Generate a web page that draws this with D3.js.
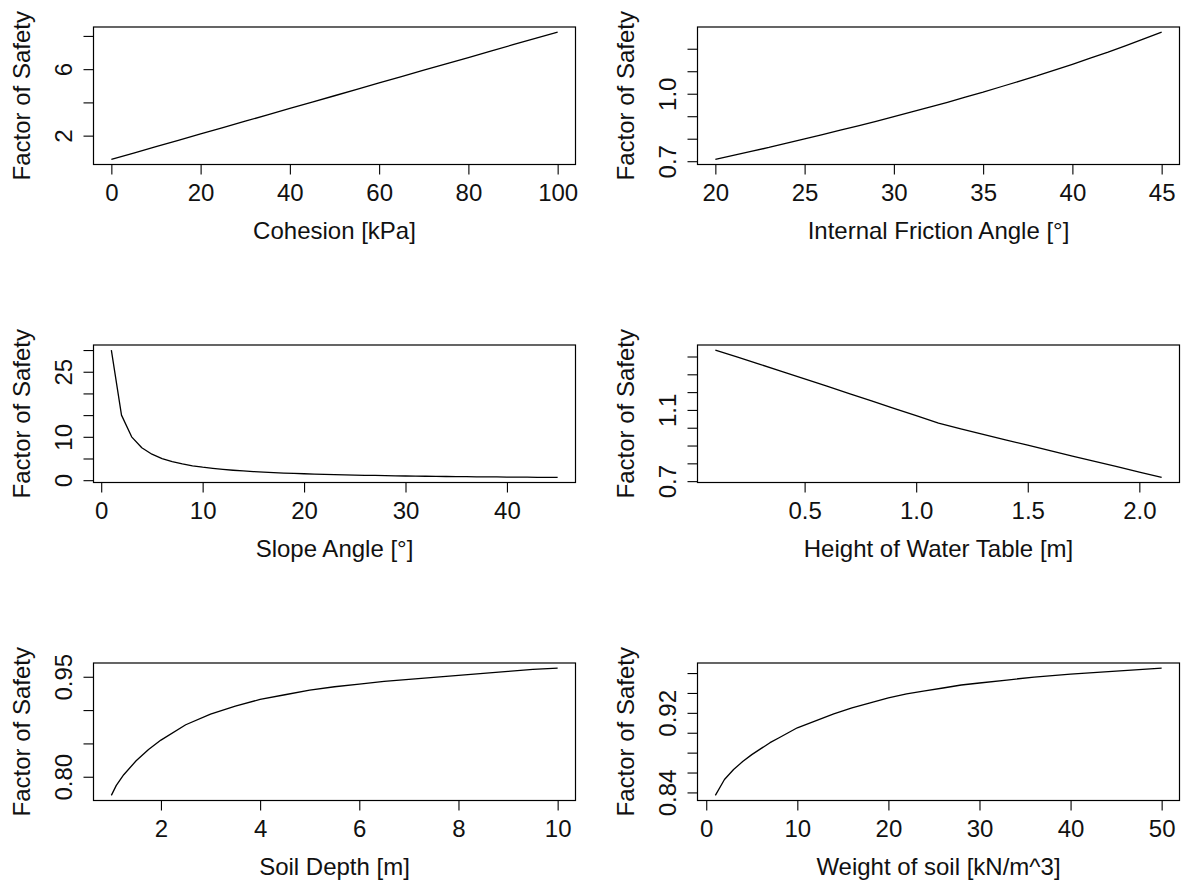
<!DOCTYPE html>
<html>
<head>
<meta charset="utf-8">
<script src="https://cdn.jsdelivr.net/npm/d3@7"></script>
<style>
  html, body { margin: 0; padding: 0; background: #ffffff; }
  svg { display: block; }
  text { font-family: "Liberation Sans", Arial, Helvetica, sans-serif; fill: #111; }
</style>
</head>
<body>
<svg id="chart" width="1181" height="881"></svg>
<script>
// ---- Sensitivity sweeps: factor of safety against each input parameter ----

// Cohesion [kPa]
const cohesion = [0, 5, 10, 15, 20, 25, 30, 35, 40, 45, 50, 55, 60, 65, 70, 75, 80, 85, 90, 95, 100];
const fosCohesion = [0.57, 0.95, 1.34, 1.72, 2.10, 2.48, 2.87, 3.25, 3.64, 4.02, 4.40,
                     4.79, 5.17, 5.55, 5.94, 6.32, 6.70, 7.09, 7.47, 7.85, 8.23];

// Internal friction angle [deg]
const frictionAngle = [20, 21, 22, 23, 24, 25, 26, 27, 28, 29, 30, 31, 32,
                       33, 34, 35, 36, 37, 38, 39, 40, 41, 42, 43, 44, 45];
const fosFriction = [0.708, 0.726, 0.744, 0.761, 0.780, 0.799, 0.818, 0.838, 0.857,
                     0.877, 0.898, 0.919, 0.940, 0.962, 0.985, 1.007, 1.031, 1.055,
                     1.079, 1.105, 1.131, 1.158, 1.185, 1.214, 1.244, 1.274];

// Slope angle [deg]
const slopeAngle = [1, 2, 3, 4, 5, 6, 7, 8, 9, 10, 11, 12, 13, 14, 15, 16, 17, 18, 19, 20,
                    21, 22, 23, 24, 25, 26, 27, 28, 29, 30, 31, 32, 33, 34, 35, 36, 37, 38,
                    39, 40, 41, 42, 43, 44, 45];
const fosSlope = [29.99, 15.00, 9.99, 7.49, 5.99, 4.99, 4.28, 3.74, 3.32, 2.99,
                  2.72, 2.49, 2.29, 2.13, 1.99, 1.86, 1.75, 1.65, 1.56, 1.48,
                  1.41, 1.34, 1.28, 1.23, 1.18, 1.13, 1.09, 1.05, 1.01, 0.97,
                  0.94, 0.91, 0.88, 0.85, 0.83, 0.81, 0.78, 0.76, 0.74, 0.72,
                  0.70, 0.69, 0.67, 0.65, 0.64];

// Height of water table [m]
const waterTable = [0.1, 0.2, 0.3, 0.4, 0.5, 0.6, 0.7, 0.8, 0.9, 1.0, 1.1,
                    1.2, 1.3, 1.4, 1.5, 1.6, 1.7, 1.8, 1.9, 2.0, 2.1];
const fosWater = [1.436, 1.396, 1.356, 1.315, 1.274, 1.233, 1.192, 1.151, 1.109, 1.068, 1.026,
                  0.994, 0.963, 0.932, 0.902, 0.871, 0.841, 0.811, 0.781, 0.751, 0.721];

// Soil depth [m]
const soilDepth = [1, 1.1, 1.25, 1.5, 1.75, 2, 2.5, 3, 3.5, 4, 4.5, 5, 5.5, 6, 6.5, 7, 7.5, 8, 8.5, 9, 9.5, 10];
const fosDepth = [0.772, 0.787, 0.803, 0.824, 0.841, 0.855, 0.878, 0.894, 0.906, 0.916, 0.923,
                  0.930, 0.935, 0.939, 0.943, 0.946, 0.949, 0.952, 0.955, 0.958, 0.961, 0.963];

// Unit weight of soil [kN/m^3]
const soilWeight = [1, 2, 3, 4, 5, 6, 7, 8, 9, 10, 12, 14, 16, 18, 20, 22, 24, 26, 28, 30, 33, 36, 40, 45, 50];
const fosWeight = [0.837, 0.853, 0.863, 0.871, 0.878, 0.884, 0.890, 0.895, 0.900, 0.905,
                   0.912, 0.919, 0.925, 0.930, 0.935, 0.939, 0.942, 0.945, 0.948, 0.950,
                   0.953, 0.956, 0.959, 0.962, 0.965];

// Axis ticks and the labels printed at them ("" = tick without a label)
const xTicksCohesion = [0, 20, 40, 60, 80, 100];
const yTicksCohesion = [2, 4, 6, 8];
const yLabelsCohesion = ["2", "", "6", ""];

const xTicksFriction = [20, 25, 30, 35, 40, 45];
const yTicksFriction = [0.7, 0.8, 0.9, 1.0, 1.1, 1.2];
const yLabelsFriction = ["0.7", "", "", "1.0", "", ""];

const xTicksSlope = [0, 10, 20, 30, 40];
const yTicksSlope = [0, 5, 10, 15, 20, 25, 30];
const yLabelsSlope = ["0", "", "10", "", "", "25", ""];

const xTicksWater = [0.5, 1.0, 1.5, 2.0];
const xLabelsWater = ["0.5", "1.0", "1.5", "2.0"];
const yTicksWater = [0.7, 0.8, 0.9, 1.0, 1.1, 1.2, 1.3, 1.4];
const yLabelsWater = ["0.7", "", "", "", "1.1", "", "", ""];

const xTicksDepth = [2, 4, 6, 8, 10];
const yTicksDepth = [0.80, 0.85, 0.90, 0.95];
const yLabelsDepth = ["0.80", "", "", "0.95"];

const xTicksWeight = [0, 10, 20, 30, 40, 50];
const yTicksWeight = [0.84, 0.86, 0.88, 0.90, 0.92, 0.94, 0.96];
const yLabelsWeight = ["0.84", "", "", "", "0.92", "", ""];

const yTitle = "Factor of Safety";

// ---- Panel definitions ----
const panels = [
  { x: cohesion, y: fosCohesion, xTicks: xTicksCohesion, yTicks: yTicksCohesion,
    yLabels: yLabelsCohesion, xTitle: "Cohesion [kPa]" },
  { x: frictionAngle, y: fosFriction, xTicks: xTicksFriction, yTicks: yTicksFriction,
    yLabels: yLabelsFriction, xTitle: "Internal Friction Angle [°]" },
  { x: slopeAngle, y: fosSlope, xTicks: xTicksSlope, yTicks: yTicksSlope,
    yLabels: yLabelsSlope, xTitle: "Slope Angle [°]" },
  { x: waterTable, y: fosWater, xTicks: xTicksWater, xLabels: xLabelsWater, yTicks: yTicksWater,
    yLabels: yLabelsWater, xTitle: "Height of Water Table [m]" },
  { x: soilDepth, y: fosDepth, xTicks: xTicksDepth, yTicks: yTicksDepth,
    yLabels: yLabelsDepth, xTitle: "Soil Depth [m]" },
  { x: soilWeight, y: fosWeight, xTicks: xTicksWeight, yTicks: yTicksWeight,
    yLabels: yLabelsWeight, xTitle: "Weight of soil [kN/m^3]" }
];

// ---- Layout: 3 rows x 2 columns of plot boxes ----
const colLeft = [93.5, 697.5];
const rowTop = [27, 345, 663];
const boxW = 482;
const boxH = 137.5;
const tickLen = 10;
const fontSize = 24;

const svg = d3.select("#chart");

// pad a data range by 4% on each side, like a default plot range
function padded(values) {
  const [lo, hi] = d3.extent(values);
  const d = (hi - lo) * 0.04;
  return [lo - d, hi + d];
}

panels.forEach((p, i) => {
  const left = colLeft[i % 2];
  const top = rowTop[Math.floor(i / 2)];

  const x = d3.scaleLinear().domain(padded(p.x)).range([0, boxW]);
  const y = d3.scaleLinear().domain(padded(p.y)).range([boxH, 0]);

  const g = svg.append("g").attr("transform", `translate(${left},${top})`);

  // data curve
  const line = d3.line()
    .x((d, k) => x(p.x[k]))
    .y(d => y(d));
  g.append("path")
    .datum(p.y)
    .attr("d", line)
    .attr("fill", "none")
    .attr("stroke", "#000")
    .attr("stroke-width", 1.3)
    .attr("stroke-linejoin", "round");

  // bottom axis
  const xAxis = d3.axisBottom(x)
    .tickValues(p.xTicks)
    .tickSize(tickLen)
    .tickSizeOuter(0)
    .tickFormat((d, k) => p.xLabels ? p.xLabels[k] : String(d));
  const gx = g.append("g").attr("transform", `translate(0,${boxH})`).call(xAxis);
  gx.select(".domain").remove();
  gx.selectAll(".tick line").attr("stroke", "#000").attr("stroke-width", 1.1);
  gx.selectAll(".tick text")
    .attr("y", 36.7)
    .attr("dy", null)
    .attr("fill", "#111")
    .style("font-size", fontSize + "px")
    .style("font-family", '"Liberation Sans", Arial, sans-serif');

  // left axis, labels written along the axis
  const yAxis = d3.axisLeft(y)
    .tickValues(p.yTicks)
    .tickSize(tickLen)
    .tickSizeOuter(0)
    .tickFormat((d, k) => p.yLabels[k]);
  const gy = g.append("g").call(yAxis);
  gy.select(".domain").remove();
  gy.selectAll(".tick line").attr("stroke", "#000").attr("stroke-width", 1.1);
  gy.selectAll(".tick text")
    .attr("x", null)
    .attr("dy", null)
    .attr("text-anchor", "middle")
    .attr("transform", "translate(-21.5,0) rotate(-90)")
    .attr("fill", "#111")
    .style("font-size", fontSize + "px")
    .style("font-family", '"Liberation Sans", Arial, sans-serif');

  // plot box
  g.append("rect")
    .attr("x", 0).attr("y", 0)
    .attr("width", boxW).attr("height", boxH)
    .attr("fill", "none")
    .attr("stroke", "#000")
    .attr("stroke-width", 1.2);

  // axis titles
  g.append("text")
    .attr("x", boxW / 2)
    .attr("y", boxH + 74.3)
    .attr("text-anchor", "middle")
    .style("font-size", fontSize + "px")
    .text(p.xTitle);

  g.append("text")
    .attr("transform", `translate(-64,${boxH / 2}) rotate(-90)`)
    .attr("text-anchor", "middle")
    .style("font-size", fontSize + "px")
    .text(yTitle);
});
</script>
</body>
</html>
